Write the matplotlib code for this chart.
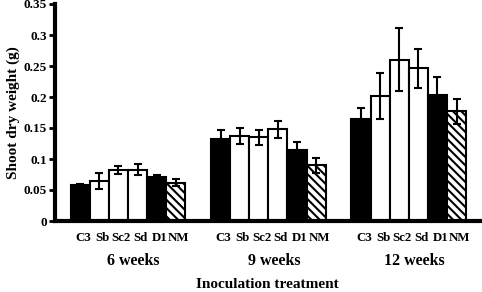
import matplotlib.pyplot as plt
import numpy as np

# shoot dry weight (g)
groups = ["6 weeks", "9 weeks", "12 weeks"]
treatments = ["C3", "Sb", "Sc2", "Sd", "D1", "NM"]
means = [
    [0.058, 0.064, 0.082, 0.083, 0.071, 0.062],
    [0.133, 0.137, 0.135, 0.148, 0.114, 0.090],
    [0.164, 0.201, 0.260, 0.246, 0.203, 0.177],
]
errors = [
    [0.001, 0.013, 0.006, 0.009, 0.004, 0.005],
    [0.014, 0.013, 0.012, 0.014, 0.013, 0.012],
    [0.019, 0.037, 0.051, 0.032, 0.029, 0.020],
]
fills = ["black", "white", "white", "white", "black", "white"]
hatches = [None, None, None, None, None, "\\\\\\\\"]

plt.rcParams["font.family"] = ["Liberation Serif", "DejaVu Serif"]
plt.rcParams["font.weight"] = "bold"
plt.rcParams["hatch.linewidth"] = 1.5

fig = plt.figure(figsize=(4.82, 2.92), dpi=100)
ax = fig.add_axes([55 / 482, 71 / 292, 425 / 482, 217 / 292])

group_step = 7.35
centers = []
for g in range(len(groups)):
    for i in range(len(treatments)):
        x = g * group_step + i + 0.5
        centers.append(x)
        ax.bar(x, means[g][i], width=1.0, color=fills[i], edgecolor="black",
               linewidth=1.5, hatch=hatches[i], zorder=2)
        ax.errorbar(x, means[g][i], yerr=errors[g][i], fmt="none", ecolor="black",
                    elinewidth=1.5, capsize=3.2, capthick=1.5, zorder=3)

ax.set_xlim(-0.82, 21.43)
ax.set_ylim(0, 0.35)
ax.set_yticks(np.arange(0, 0.351, 0.05))
ax.set_yticklabels(["0", "0.05", "0.1", "0.15", "0.2", "0.25", "0.3", "0.35"])
ax.tick_params(axis="y", length=4, width=2, labelsize=9.5, pad=2)

ax.set_xticks([c + 0.15 for c in centers])
ax.set_xticklabels(treatments * len(groups), fontsize=9.3, fontweight="bold")
ax.tick_params(axis="x", length=0, pad=8)

for g, name in enumerate(groups):
    ax.text(g * group_step + 3.3, -0.183, name, transform=ax.get_xaxis_transform(),
            ha="center", va="center", fontsize=11.5, fontweight="bold")

ax.text(10.3, -0.293, "Inoculation treatment", transform=ax.get_xaxis_transform(),
        ha="center", va="center", fontsize=11, fontweight="bold")

ax.set_ylabel("Shoot dry weight (g)", fontsize=11, fontweight="bold")
ax.yaxis.set_label_coords(-0.082, 0.5)

ax.spines["top"].set_visible(False)
ax.spines["right"].set_visible(False)
ax.spines["left"].set_linewidth(3)
ax.spines["bottom"].set_linewidth(3)

fig.savefig("out.png", dpi=100)
